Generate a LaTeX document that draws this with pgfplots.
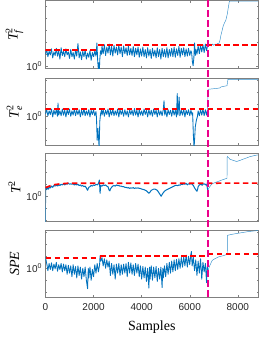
\documentclass[border=0pt]{standalone}
\usepackage{pgfplots}
\pgfplotsset{compat=1.18}
\usepackage{fontspec}
\setmainfont{Liberation Serif}
\newfontfamily\tickfont{Liberation Sans}
\definecolor{mblue}{RGB}{0,114,189}
\definecolor{thrred}{RGB}{255,0,0}
\pgfplotsset{
  base/.style={
    scale only axis, width=212.5pt,
    xmin=0, xmax=8840,
    xtick={0,2000,4000,6000,8000},
    scaled x ticks=false,
    ytick={0}, yticklabels={10\textsuperscript{0}},
    tick align=inside,
    major tick length=2.5pt, minor tick length=1.5pt,
    axis line style={black!50, line width=0.5pt},
    tick style={black!50, line width=0.4pt},
    tick label style={font=\tickfont\fontsize{10}{12}\selectfont, text=black!85},
    ylabel style={at={(axis description cs:-0.146,0.5)}, anchor=center, font=\fontsize{14}{16}\selectfont},
  },
  sig/.style={mblue, line width=0.85pt, no marks, line join=round},
  sigmid/.style={mblue, line width=1.0pt, no marks, line join=round},
  sigthin/.style={mblue!80, line width=0.45pt, no marks},
  thr/.style={draw=thrred, color=thrred, solid, line width=1.7pt, dash pattern=on 5.5pt off 3.5pt, no marks},
}
\begin{document}
\begin{tikzpicture}
\useasboundingbox (-45.5pt,0.3pt) rectangle (213.5pt,-336.7pt);
% ---------------- T_f^2
\begin{axis}[base, name=ax1, at={(0,0)}, anchor=north west, height=68pt,
  ymin=-0.167, ymax=5.5, minor ytick={1,2,3,4,5}, xticklabels={},
  ylabel={$\textit{T}^{\mbox{\fontsize{10}{10}\selectfont 2}}_{\mbox{\fontsize{10}{10}\selectfont\itshape f}}$}]
\addplot[sig] coordinates {(0,1.0)(50,1.4)(100,0.8)(150,1.25)(200,0.95)(250,1.45)(300,0.7)(350,1.2)(400,0.9)(450,1.5)(500,0.85)(550,1.3)(600,0.6)(650,1.55)(700,0.9)(750,1.25)(800,0.8)(850,1.45)(900,0.95)(950,1.2)(1000,0.65)(1050,1.4)(1100,0.8)(1150,1.15)(1200,0.6)(1250,1.35)(1300,0.85)(1350,1.9)(1400,0.7)(1450,1.2)(1500,0.55)(1550,1.25)(1600,0.8)(1650,1.35)(1700,0.6)(1750,1.1)(1800,0.75)(1850,1.3)(1900,0.5)(1950,1.15)(2000,0.8)(2050,1.25)(2100,0.85)(2140,1.95)(2170,0.5)(2200,-0.3)(2220,0.3)(2240,-0.3)(2260,0.6)(2290,1.3)(2330,1.0)(2350,1.7)(2400,1.05)(2450,1.8)(2500,0.9)(2550,1.6)(2600,1.1)(2650,1.85)(2700,0.95)(2750,1.65)(2800,0.85)(2850,1.75)(2900,1.1)(2950,1.6)(3000,0.95)(3050,1.75)(3100,1.05)(3150,1.6)(3200,0.8)(3250,1.7)(3300,1.05)(3350,1.55)(3400,0.9)(3450,1.7)(3500,0.95)(3550,1.5)(3600,0.9)(3650,1.65)(3700,0.8)(3750,1.5)(3800,0.95)(3850,1.6)(3900,0.75)(3950,1.45)(4000,0.85)(4050,1.6)(4100,0.8)(4150,1.4)(4200,0.7)(4250,1.55)(4300,0.85)(4350,1.4)(4400,0.65)(4450,1.5)(4500,0.85)(4550,1.35)(4600,0.7)(4650,1.55)(4700,0.8)(4750,1.4)(4800,0.6)(4850,1.5)(4900,0.8)(4950,1.4)(5000,0.75)(5050,1.55)(5100,0.7)(5150,1.4)(5200,0.85)(5250,1.5)(5300,0.8)(5350,1.6)(5400,0.75)(5450,1.45)(5500,0.9)(5550,1.65)(5600,0.75)(5650,1.5)(5700,0.95)(5750,1.55)(5800,0.8)(5850,1.45)(5900,0.85)(5950,1.5)(6000,0.9)(6050,1.3)(6080,1.1)(6110,0.4)(6140,0.05)(6170,0.65)(6200,1.95)(6230,0.9)(6260,1.4)(6300,1.0)(6350,1.7)(6400,1.05)(6450,1.75)(6500,1.2)(6550,1.8)(6600,1.15)(6650,1.85)(6700,1.3)(6750,1.8)};
\addplot[sigthin] coordinates {(6750,1.8)(6800,1.75)(6850,1.85)(6900,1.7)(6950,1.85)(7000,1.75)(7050,1.85)(7100,1.8)(7150,1.9)(7200,1.85)(7250,2.1)(7300,2.6)(7400,3.42)(7500,3.83)(7560,4.33)(7620,5.08)(7650,5.42)(8840,5.42)};
\addplot[thr] coordinates {(0,1.37)(2200,1.37)};
\addplot[thr] coordinates {(2200,1.79)(8840,1.79)};
\end{axis}
% ---------------- T_e^2
\begin{axis}[base, name=ax2, at={(0,-78pt)}, anchor=north west, height=67pt,
  ymin=-2.417, ymax=3.167, minor ytick={-2,-1,1,2,3}, xticklabels={},
  ylabel={$\textit{T}^{\mbox{\fontsize{10}{10}\selectfont 2}}_{\mbox{\fontsize{10}{10}\selectfont\itshape e}}$}]
\addplot[sig] coordinates {(0,0.2)(50,0.55)(100,0.05)(150,0.45)(200,0.15)(250,0.6)(300,-0.05)(350,0.5)(400,0.15)(450,0.55)(500,0.0)(520,1.1)(550,0.1)(600,0.45)(650,0.05)(700,0.6)(750,0.1)(800,0.5)(850,-0.05)(900,0.55)(950,0.15)(1000,0.6)(1050,0.0)(1100,0.45)(1150,0.1)(1200,0.6)(1250,0.05)(1300,0.5)(1350,0.15)(1400,0.55)(1450,-0.05)(1500,0.5)(1550,0.1)(1600,0.65)(1650,0.05)(1700,0.45)(1750,0.1)(1800,0.55)(1850,-0.05)(1900,0.5)(1950,0.15)(2000,0.55)(2050,0.05)(2100,0.4)(2120,-0.1)(2150,-2.0)(2180,-1.0)(2200,-1.6)(2230,-2.6)(2260,-0.4)(2290,0.2)(2330,0.5)(2350,0.1)(2400,0.55)(2450,0.0)(2500,0.5)(2550,0.15)(2600,0.6)(2650,-0.05)(2700,0.5)(2750,0.1)(2800,0.6)(2850,0.05)(2900,0.45)(2950,0.1)(3000,0.6)(3050,-0.05)(3100,0.55)(3150,0.15)(3200,0.5)(3250,0.0)(3300,0.55)(3350,0.1)(3400,0.45)(3450,-0.05)(3500,0.55)(3550,0.15)(3600,0.5)(3650,0.05)(3700,0.65)(3750,0.1)(3800,0.5)(3850,-0.05)(3900,0.55)(3950,0.1)(4000,0.45)(4050,0.05)(4100,0.6)(4150,0.15)(4200,0.5)(4250,-0.05)(4300,0.55)(4350,0.1)(4400,0.5)(4450,0.0)(4500,0.6)(4550,0.15)(4600,0.5)(4650,-0.05)(4700,0.55)(4750,0.1)(4800,0.45)(4850,0.05)(4900,0.55)(4930,1.3)(4960,0.1)(5000,0.5)(5050,-0.05)(5100,0.55)(5150,0.15)(5200,0.5)(5250,0.0)(5300,0.6)(5350,0.1)(5400,0.5)(5450,-0.05)(5480,1.9)(5510,0.1)(5560,1.6)(5590,0.05)(5650,0.5)(5700,0.1)(5750,0.6)(5800,-0.05)(5850,0.5)(5900,0.15)(5950,0.55)(6000,0.05)(6050,0.5)(6100,0.1)(6120,0.3)(6150,-1.5)(6180,-2.6)(6200,-2.0)(6230,-0.9)(6270,-0.4)(6320,0.0)(6350,0.45)(6400,0.05)(6450,0.55)(6500,0.1)(6550,0.6)(6600,0.05)(6650,0.55)(6700,0.1)(6740,0.5)};
\addplot[sigthin] coordinates {(6740,0.5)(6760,2.25)(6900,2.28)(7100,2.32)(7250,2.36)(7300,2.45)(7425,2.5)(7550,2.55)(7590,3.08)(8840,3.08)};
\addplot[thr] coordinates {(0,0.62)(8840,0.62)};
\end{axis}
% ---------------- T^2
\begin{axis}[base, name=ax3, at={(0,-153pt)}, anchor=north west, height=68pt,
  ymin=-2.083, ymax=3.583, minor ytick={-2,-1,1,2,3}, xticklabels={},
  ylabel={$\textit{T}^{\mbox{\fontsize{10}{10}\selectfont 2}}$}]
\addplot[sigthin] coordinates {(0,-2.3)(20,0.7)};
\addplot[sigmid] coordinates {(20,0.7)(50,0.55)(80,0.75)(120,0.6)(160,0.8)(200,0.7)(250,0.85)(300,0.75)(350,0.9)(400,0.85)(450,0.95)(500,0.85)(550,0.95)(600,0.9)(650,1.0)(700,0.95)(750,1.05)(800,0.95)(850,1.05)(900,1.0)(950,1.1)(1000,1.0)(1050,1.05)(1100,1.0)(1150,1.05)(1200,0.95)(1250,1.0)(1300,0.95)(1350,1.0)(1400,0.9)(1450,0.95)(1500,0.85)(1550,0.9)(1600,0.8)(1650,0.85)(1700,0.7)(1750,0.5)(1780,0.65)(1800,0.75)(1850,0.8)(1900,0.9)(1950,0.85)(2000,0.95)(2050,0.9)(2100,1.0)(2150,0.95)(2200,1.05)(2240,1.35)(2260,0.7)(2270,0.25)(2290,0.8)(2300,0.9)(2350,0.85)(2400,0.95)(2450,0.9)(2500,0.95)(2550,0.85)(2600,0.8)(2650,0.5)(2680,0.45)(2700,0.6)(2750,0.75)(2800,0.85)(2850,0.9)(2900,0.85)(2950,0.95)(3000,0.9)(3050,0.9)(3100,0.85)(3150,0.85)(3200,0.8)(3250,0.8)(3300,0.75)(3350,0.75)(3400,0.7)(3450,0.72)(3500,0.66)(3550,0.7)(3600,0.68)(3650,0.72)(3700,0.65)(3750,0.7)(3800,0.68)(3850,0.7)(3900,0.66)(3950,0.65)(4000,0.6)(4050,0.58)(4100,0.55)(4150,0.5)(4200,0.45)(4250,0.35)(4300,0.25)(4350,0.35)(4400,0.5)(4450,0.55)(4500,0.6)(4550,0.6)(4600,0.55)(4650,0.5)(4700,0.35)(4750,0.2)(4810,0.0)(4850,0.15)(4900,0.3)(4950,0.42)(5000,0.5)(5050,0.55)(5100,0.6)(5150,0.65)(5200,0.7)(5250,0.75)(5300,0.8)(5350,0.85)(5400,0.9)(5450,0.92)(5500,0.88)(5550,0.95)(5600,0.92)(5650,1.0)(5700,0.98)(5750,1.05)(5800,1.0)(5850,1.08)(5900,0.95)(5950,1.05)(6000,1.0)(6050,1.08)(6100,1.0)(6150,0.9)(6200,0.7)(6250,0.55)(6300,0.42)(6330,0.6)(6350,0.8)(6400,0.95)(6470,1.0)(6520,0.92)(6550,1.0)(6600,1.05)(6650,0.95)(6680,1.02)(6720,0.85)(6750,0.5)};
\addplot[sigthin] coordinates {(6750,0.5)(6800,0.7)(6850,0.85)(6930,1.05)(7000,1.1)(7100,1.18)(7200,1.25)(7300,1.33)(7400,1.4)(7550,1.5)(7560,3.33)(7680,3.08)(7800,3.0)(7950,2.9)(8100,3.0)(8300,3.15)(8500,3.3)(8700,3.4)(8840,3.45)};
\addplot[thr] coordinates {(0,0.72)(100,0.8)(300,0.95)(600,1.03)(900,1.08)(8840,1.1)};
\end{axis}
% ---------------- SPE
\begin{axis}[base, name=ax4, at={(0,-230pt)}, anchor=north west, height=67pt,
  ymin=-2.417, ymax=3.167, minor ytick={-2,-1,1,2,3},
  xticklabels={0,2000,4000,6000,8000},
  xticklabel style={yshift=-3pt},
  xlabel={Samples},
  xlabel style={at={(axis description cs:0.5,0)}, yshift=-30pt, anchor=center, font=\fontsize{14}{16}\selectfont},
  ylabel={\textit{SPE}}]
\addplot[sig] coordinates {(0,0.95)(30,0.6)(60,0.3)(100,-0.2)(150,0.4)(200,-0.1)(250,0.45)(300,-0.2)(350,0.35)(400,-0.05)(450,0.5)(500,-0.25)(550,0.3)(600,-0.1)(650,0.4)(700,-0.3)(750,0.35)(800,-0.2)(850,0.3)(900,-0.5)(950,0.25)(1000,-0.4)(1050,0.2)(1100,-0.7)(1150,0.3)(1200,-0.5)(1250,0.15)(1300,-0.8)(1350,0.2)(1400,-0.6)(1450,0.1)(1500,-0.9)(1550,0.0)(1600,-0.7)(1650,0.1)(1700,-1.0)(1750,-1.7)(1780,0.0)(1800,-0.8)(1850,0.1)(1900,-1.0)(1950,-0.1)(2000,-0.7)(2050,0.3)(2100,-0.4)(2150,0.4)(2200,-0.3)(2250,0.3)(2270,1.05)(2300,0.6)(2350,0.9)(2400,0.2)(2450,0.8)(2500,0.0)(2550,0.7)(2600,0.1)(2650,0.6)(2700,-0.6)(2750,0.4)(2800,-0.5)(2850,0.3)(2900,-0.9)(2950,0.35)(3000,-0.4)(3050,0.4)(3100,-0.6)(3150,0.3)(3200,-0.5)(3250,0.35)(3300,-0.4)(3350,0.4)(3400,-0.7)(3450,0.5)(3500,-0.4)(3550,0.45)(3600,-0.5)(3650,0.3)(3700,-0.6)(3750,0.4)(3800,-0.4)(3850,0.35)(3900,-0.7)(3950,0.2)(4000,-0.9)(4050,0.15)(4100,-0.8)(4150,0.1)(4200,-1.1)(4250,0.0)(4300,-1.65)(4330,0.1)(4350,-0.9)(4400,0.2)(4450,-1.0)(4500,0.1)(4550,-0.8)(4600,0.15)(4650,-1.1)(4700,0.0)(4750,-0.9)(4800,0.1)(4850,-1.6)(4880,0.0)(4900,-0.8)(4950,0.2)(5000,-0.7)(5050,0.4)(5100,-0.5)(5150,0.5)(5200,-0.4)(5250,0.6)(5300,-0.3)(5350,0.7)(5400,-0.2)(5450,0.75)(5500,-0.1)(5550,0.8)(5600,0.0)(5650,0.9)(5700,0.1)(5750,0.95)(5800,0.2)(5850,1.1)(5900,0.1)(5950,1.0)(6000,0.3)(6050,1.2)(6070,1.4)(6100,0.2)(6150,0.9)(6200,-0.2)(6250,0.7)(6300,-0.6)(6350,0.6)(6400,-0.4)(6450,0.8)(6500,-0.9)(6550,0.5)(6600,-0.3)(6650,0.4)(6700,-1.2)(6730,0.2)(6750,-0.25)};
\addplot[sigthin] coordinates {(6750,-0.25)(6800,0.05)(6850,0.3)(6940,0.67)(7050,0.8)(7220,0.97)(7400,1.05)(7560,1.17)(7570,2.75)(7800,2.85)(8100,2.95)(8400,3.05)(8840,3.15)};
\addplot[thr] coordinates {(0,0.87)(2270,0.87)};
\addplot[thr] coordinates {(2270,1.05)(6750,1.05)};
\addplot[thr] coordinates {(6750,1.17)(8840,1.17)};
\coordinate (mbot) at (axis cs:6750,-2.417);
\end{axis}
\draw[magenta, line width=2pt, dash pattern=on 7pt off 3pt] (mbot |- ax1.north) -- (mbot);
\end{tikzpicture}
\end{document}
